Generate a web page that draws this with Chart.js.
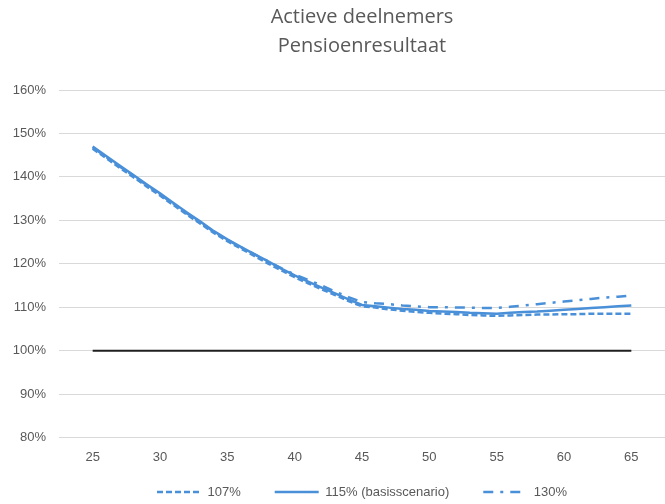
<!DOCTYPE html>
<html>
<head>
<meta charset="utf-8">
<script src="https://cdn.jsdelivr.net/npm/chart.js@4/dist/chart.umd.min.js"></script>
<style>
  html, body { margin: 0; padding: 0; background: #ffffff; }
  #wrap { width: 665px; height: 504px; }
</style>
</head>
<body>
<div id="wrap"><canvas id="chart" width="665" height="504"></canvas></div>
<script>
// Leeftijden (x) en pensioenresultaat in % per scenario
const leeftijden = [25,26,27,28,29,30,31,32,33,34,35,36,37,38,39,40,41,42,43,44,45,46,47,48,49,50,51,52,53,54,55,56,57,58,59,60,61,62,63,64,65];

const scenario107 = [146.5,144.3,142.1,140.0,137.8,135.7,133.5,131.3,129.2,127.1,125.2,123.5,121.8,120.1,118.5,116.9,115.5,114.1,112.8,111.4,110.2,109.9,109.5,109.2,108.9,108.7,108.5,108.4,108.2,108.1,108.0,108.1,108.2,108.3,108.3,108.4,108.4,108.5,108.5,108.5,108.5];

const scenario115 = [147.0,144.8,142.6,140.5,138.3,136.2,134.0,131.8,129.7,127.5,125.6,123.9,122.2,120.6,118.9,117.3,115.9,114.5,113.2,111.8,110.5,110.2,109.9,109.6,109.4,109.1,109.0,108.9,108.7,108.6,108.5,108.7,108.9,109.0,109.2,109.4,109.6,109.8,110.0,110.2,110.4];

const scenario130 = [146.8,144.6,142.4,140.3,138.1,136.0,133.8,131.6,129.5,127.4,125.5,123.8,122.2,120.6,119.0,117.5,116.3,115.0,113.6,112.3,111.2,110.9,110.7,110.4,110.2,110.0,110.0,109.9,109.9,109.8,109.8,110.1,110.4,110.7,111.0,111.3,111.6,111.9,112.2,112.4,112.7];

// Referentielijn op 100%
const referentieLeeftijden = [25, 65];
const referentie = [100, 100];

const seriesNamen = ['107%', '115% (basisscenario)', '130%'];
const titelRegels = ['Actieve deelnemers', 'Pensioenresultaat'];
const xTickWaarden = [25, 30, 35, 40, 45, 50, 55, 60, 65];

const blauw = '#4A90D9';
const tekstGrijs = '#595959';
const fontFamily = '"Liberation Sans", Arial, sans-serif';

const punten = (xs, ys) => xs.map((x, i) => ({ x: x, y: ys[i] }));

const lijnStijl = {
  borderColor: blauw,
  backgroundColor: blauw,
  borderWidth: 2.5,
  pointRadius: 0,
  pointHoverRadius: 0,
  fill: false,
  tension: 0
};

new Chart(document.getElementById('chart'), {
  type: 'line',
  data: {
    datasets: [
      Object.assign({ label: seriesNamen[0], data: punten(leeftijden, scenario107), borderDash: [6, 3] }, lijnStijl),
      Object.assign({ label: seriesNamen[1], data: punten(leeftijden, scenario115) }, lijnStijl),
      Object.assign({ label: seriesNamen[2], data: punten(leeftijden, scenario130), borderDash: [10, 7, 3, 7] }, lijnStijl),
      {
        label: 'referentie',
        data: punten(referentieLeeftijden, referentie),
        borderColor: '#1f1f1f',
        borderWidth: 2,
        pointRadius: 0,
        fill: false
      }
    ]
  },
  options: {
    responsive: false,
    animation: false,
    layout: { padding: { left: 0, right: 0, top: 0, bottom: -4.5 } },
    plugins: {
      tooltip: { enabled: false },
      title: {
        display: true,
        fullSize: false,
        text: titelRegels,
        color: tekstGrijs,
        font: { family: '"Open Sans", sans-serif', size: 20, weight: 'normal', lineHeight: '29px' },
        padding: { top: 3, bottom: 29 }
      },
      legend: {
        display: true,
        position: 'bottom',
        fullSize: false,
        labels: {
          usePointStyle: true,
          pointStyle: 'line',
          pointStyleWidth: 44,
          padding: 34,
          color: tekstGrijs,
          font: { family: fontFamily, size: 13 },
          // legend samples take the line style of each series (dash pattern included)
          generateLabels: (chart) => chart.data.datasets.slice(0, 3).map((ds, i) => ({
            text: ds.label,
            strokeStyle: ds.borderColor,
            fillStyle: ds.borderColor,
            fontColor: tekstGrijs,
            lineWidth: ds.borderWidth,
            lineDash: ds.borderDash || [],
            pointStyle: 'line',
            hidden: false,
            datasetIndex: i
          }))
        }
      }
    },
    scales: {
      x: {
        type: 'linear',
        min: 22.5,
        max: 67.5,
        grid: { display: false },
        border: { display: false },
        afterBuildTicks: (scale) => { scale.ticks = xTickWaarden.map(v => ({ value: v })); },
        afterFit: (scale) => {
          scale.height = 14;
          // the age labels sit partly over the legend box; let them draw unclipped
          scale._computeLabelArea = () => undefined;
        },
        ticks: {
          color: tekstGrijs,
          font: { family: fontFamily, size: 13 },
          padding: 4,
          maxRotation: 0,
          autoSkip: false
        }
      },
      y: {
        min: 80,
        max: 160,
        grid: { color: '#d9d9d9', lineWidth: 1, drawTicks: false },
        border: { display: false },
        afterFit: (scale) => { scale.width = 59; },
        ticks: {
          stepSize: 10,
          color: tekstGrijs,
          font: { family: fontFamily, size: 13 },
          padding: 13,
          callback: (v) => v + '%'
        }
      }
    }
  }
});
</script>
</body>
</html>
